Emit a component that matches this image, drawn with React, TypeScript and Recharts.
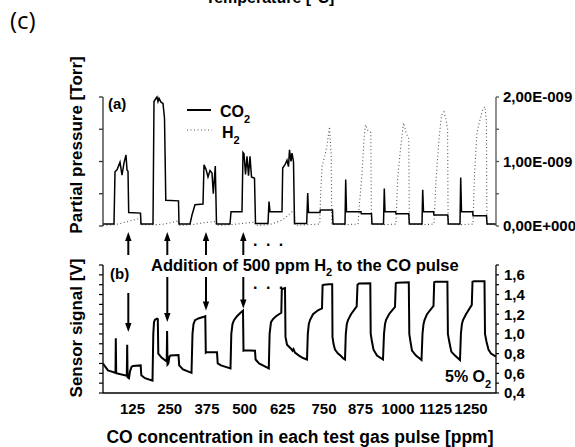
import React from 'react';
import { LineChart, Line, XAxis, YAxis } from 'recharts';

// Time axis in arbitrary time units (0 .. 393) shared by both panels
const T_MAX = 393;

// X tick labels: CO concentration of each test gas pulse [ppm]
const PULSE_LABELS = ['125', '250', '375', '500', '625', '750', '875', '1000', '1125', '1250'];
const PULSE_TICK_T = [29.5, 66.7, 104, 141.7, 179.5, 221, 257.5, 295, 332.5, 368];

// Top panel ticks (partial pressure in units of 1E-009 Torr)
const PRESSURE_TICKS = [0, 0.5, 1, 1.5, 2];
// Bottom panel ticks (sensor signal, V)
const SIGNAL_TICKS = [0.4, 0.5, 0.6, 0.7, 0.8, 0.9, 1.0, 1.1, 1.2, 1.3, 1.4, 1.5, 1.6, 1.7];

// Times at which 500 ppm H2 was added to the CO pulse (arrows)
const H2_ADDITION_T = [25.3, 64.3, 103, 140.3];

// CO2 partial pressure [1E-009 Torr]  ([time, value])
const CO2_TRACE: [number, number][] = [
  [0, 0.03], [11, 0.03], [12, 0.84], [14, 0.87], [17, 0.99], [19, 0.79], [21, 0.98], [23, 1.1], [24, 0.87], [25, 0.85],
  [25.7, 0.21], [37.5, 0.2], [38, 0.03], [50, 0.03], [51, 1.93], [53, 1.98], [54, 2.0], [55, 1.93], [56, 1.98], [58, 1.92],
  [60, 1.9], [61.5, 1.67], [62.8, 0.4], [75.5, 0.39], [76, 0.03], [87, 0.03], [89, 0.17], [92, 0.33], [100, 0.34],
  [101, 0.95], [103, 0.88], [105, 0.76], [107, 0.86], [109, 0.82], [110.3, 0.5], [112.3, 0.93], [113.5, 0.03],
  [127, 0.03], [128, 0.22], [139, 0.22], [140, 1.14], [141, 1.12], [142.5, 0.8], [144, 1.08], [145.5, 0.78], [147, 1.08],
  [148.5, 0.76], [151.5, 0.74], [152.5, 0.04], [165, 0.04], [166, 0.38], [167, 0.22], [179, 0.22], [179.7, 0.9],
  [182, 0.95], [184, 1.02], [185.5, 0.92], [186.5, 1.18], [188, 1.0], [189, 1.13], [190.5, 1.0], [191.5, 0.04],
  [203.7, 0.04], [204.7, 0.51], [205.5, 0.21], [217, 0.21], [217.3, 0.25], [229.5, 0.25], [230, 0.03], [242, 0.03],
  [242.7, 0.72], [243.5, 0.22], [258, 0.22], [258.3, 0.19], [268.5, 0.19], [269, 0.03], [280.5, 0.03], [281.3, 0.58],
  [282, 0.22], [292.5, 0.22], [293, 0.19], [305.8, 0.19], [306.3, 0.03], [319, 0.03], [319.7, 0.56], [320.5, 0.22],
  [330.5, 0.22], [331, 0.17], [344.8, 0.17], [345.3, 0.03], [357, 0.03], [357.7, 0.75], [358.5, 0.22], [369.7, 0.22],
  [370, 0.16], [383.5, 0.16], [384, 0.03], [393, 0.03],
];

// H2 partial pressure [1E-009 Torr]
const H2_TRACE: [number, number][] = [
  [0, 0.01], [12, 0.02], [20, 0.05], [30, 0.09], [37.5, 0.12], [38, 0.02], [52, 0.02], [62, 0.03], [70, 0.06],
  [75.5, 0.08], [76, 0.01], [89, 0.02], [100, 0.05], [113, 0.07], [113.5, 0.01], [128, 0.02], [140, 0.04], [152, 0.06],
  [152.5, 0.01], [166, 0.02], [174, 0.06], [180, 0.1], [186, 0.18], [189, 0.22], [191.5, 0.2], [192, 0.01], [204, 0.02],
  [216.8, 0.03], [217.5, 0.45], [219, 0.92], [222, 1.1], [224, 1.25], [226.5, 1.54], [228.2, 1.1], [228.8, 0.03],
  [242, 0.02], [255, 0.03], [256.5, 0.35], [259, 0.8], [261, 1.35], [262.5, 1.57], [265, 1.48], [267.8, 1.45],
  [268.4, 0.03], [281, 0.02], [293, 0.03], [294.5, 0.7], [297.5, 1.2], [300.5, 1.6], [303, 1.45], [305.8, 1.35],
  [306.3, 0.03], [319, 0.02], [331, 0.03], [333, 0.7], [336, 1.35], [338.5, 1.72], [341, 1.77], [343, 1.65],
  [344.6, 1.5], [345.1, 0.03], [357, 0.02], [370, 0.03], [371.5, 0.8], [374, 1.45], [377, 1.65], [380, 1.82],
  [382, 1.85], [383.4, 1.6], [383.9, 0.03], [393, 0.02],
];

// Sensor signal [V]
const SIGNAL_TRACE: [number, number][] = [
  [0, 0.7], [2, 0.67], [5, 0.63], [8, 0.62], [12.5, 0.605], [12.8, 0.955], [13.2, 0.6], [23.8, 0.575], [24.2, 0.89],
  [24.6, 0.56], [26, 0.55], [27, 0.62], [28.5, 0.665], [30, 0.675], [37.7, 0.68], [38.3, 0.58], [42, 0.55],
  [49.5, 0.525], [50.3, 1.0], [51, 1.12], [52, 1.145], [54, 1.155], [54.8, 1.15], [55.3, 0.8], [58.5, 0.76],
  [63.7, 0.72], [64.1, 1.03], [64.5, 0.69], [65.3, 0.7], [66.5, 0.77], [67.5, 0.78], [75.5, 0.785], [76.2, 0.68],
  [80, 0.64], [88.5, 0.605], [89.5, 1.0], [90.5, 1.1], [92, 1.14], [96, 1.16], [101, 1.175], [102.3, 1.18],
  [102.8, 0.81], [103.5, 0.815], [114, 0.815], [114.7, 0.7], [118, 0.68], [127.5, 0.65], [128.3, 1.0], [129.5, 1.1],
  [131, 1.14], [134, 1.18], [137, 1.21], [140, 1.237], [140.5, 0.83], [141.5, 0.835], [152, 0.83], [152.6, 0.74],
  [156, 0.7], [165.8, 0.65], [166.6, 1.0], [168, 1.12], [170, 1.15], [173, 1.18], [178.3, 1.215], [178.8, 1.45],
  [180, 1.46], [182, 1.465], [182.5, 0.97], [184, 0.89], [188, 0.85], [189.5, 0.83], [190.5, 0.845], [192, 0.81],
  [196, 0.78], [200, 0.755], [204, 0.74], [204.8, 1.0], [205.8, 1.1], [207, 1.14], [210, 1.2], [215, 1.24],
  [219, 1.26], [219.6, 1.495], [221, 1.5], [226, 1.505], [229.2, 1.505], [229.5, 0.97], [230.5, 0.9], [232, 0.84],
  [235, 0.8], [237, 0.785], [240.3, 0.75], [242, 0.74], [242.8, 1.0], [243.8, 1.1], [245, 1.14], [248, 1.2],
  [253.7, 1.28], [254.5, 1.5], [256, 1.512], [267.3, 1.515], [267.7, 1.0], [269, 0.92], [270.5, 0.84], [274, 0.78],
  [280, 0.74], [281, 1.0], [282, 1.1], [283, 1.14], [286, 1.2], [292, 1.275], [292.8, 1.515], [294, 1.52],
  [305.8, 1.525], [306.3, 1.0], [307.5, 0.92], [309, 0.83], [313, 0.78], [318.5, 0.735], [319.5, 1.0], [320.5, 1.1],
  [321.5, 1.14], [324, 1.2], [330.5, 1.285], [331.2, 1.525], [332.5, 1.53], [344.4, 1.53], [344.9, 1.0],
  [346.3, 0.92], [348.3, 0.82], [352, 0.78], [357, 0.735], [357.9, 1.0], [358.9, 1.1], [360, 1.14], [363, 1.2],
  [368.8, 1.295], [369.5, 1.53], [371, 1.535], [381.5, 1.535], [382, 1.0], [383.5, 0.92], [385.5, 0.84], [388, 0.8],
  [393, 0.77],
];

const toRows = (tr: [number, number][]) => tr.map(([t, v]) => ({ t, v }));
const co2Data = toRows(CO2_TRACE);
const h2Data = toRows(H2_TRACE);
const sigData = toRows(SIGNAL_TRACE);

const FONT = '"Liberation Sans", Arial, Helvetica, sans-serif';
const W = 575;
const PLOT_LEFT = 103;
const PLOT_RIGHT = 496;
const tx = (t: number) => PLOT_LEFT + (t / T_MAX) * (PLOT_RIGHT - PLOT_LEFT);

const fmtTorr = (v: number) => (v === 0 ? '0,00E+000' : v.toFixed(2).replace('.', ',') + 'E-009');

const EmptyTick = () => <g />;

const TopRightTick = (props: any) => {
  const { x, y, payload } = props;
  const v = payload.value;
  if (Math.abs(v - Math.round(v)) > 1e-6) return <g />;
  return (
    <text x={x} y={y} dy="0.36em" textAnchor="start" fontSize={15} fontWeight="bold" fill="#000" fontFamily={FONT}>
      {fmtTorr(v)}
    </text>
  );
};

const BottomRightTick = (props: any) => {
  const { x, y, payload } = props;
  const v = Number(payload.value);
  const k = Math.round(v * 10);
  if (k % 2 !== 0 || k > 16) return <g />;
  return (
    <text x={x} y={y} dy="0.36em" textAnchor="start" fontSize={15} fontWeight="bold" fill="#000" fontFamily={FONT}>
      {v.toFixed(1).replace('.', ',')}
    </text>
  );
};

const BottomXTick = (props: any) => {
  const { x, y, payload } = props;
  const i = PULSE_TICK_T.indexOf(payload.value);
  return (
    <text x={x} y={y} dy="0.71em" textAnchor="middle" fontSize={15} fontWeight="bold" fill="#000" fontFamily={FONT}>
      {i >= 0 ? PULSE_LABELS[i] : ''}
    </text>
  );
};

const UpArrow = ({ x, y1, y2 }: { x: number; y1: number; y2: number }) => (
  <g>
    <line x1={x} x2={x} y1={y1 + 8} y2={y2} stroke="#000" strokeWidth={2} />
    <polygon points={`${x - 3.2},${y1 + 9} ${x + 3.2},${y1 + 9} ${x},${y1}`} fill="#000" />
  </g>
);
const DownArrow = ({ x, y1, y2 }: { x: number; y1: number; y2: number }) => (
  <g>
    <line x1={x} x2={x} y1={y1} y2={y2 - 8} stroke="#000" strokeWidth={2} />
    <polygon points={`${x - 3.2},${y2 - 9} ${x + 3.2},${y2 - 9} ${x},${y2}`} fill="#000" />
  </g>
);

const DOWN_TIPS = [332, 322, 310.5, 308.5];
const DOWN_STARTS = [293, 277, 277, 277];

export default function App() {
  return (
    <div style={{ position: 'absolute', left: 0, top: 0, width: W, height: 447, background: '#fff', overflow: 'hidden' }}>
      <div style={{ position: 'absolute', left: 0, top: 0 }}>
        <LineChart width={W} height={265} margin={{ top: 97, right: 59, bottom: 39, left: 83 }}>
          <XAxis type="number" dataKey="t" domain={[0, T_MAX]} hide allowDataOverflow />
          <YAxis
            yAxisId="l"
            orientation="left"
            width={20}
            type="number"
            domain={[0, 2]}
            ticks={PRESSURE_TICKS}
            interval={0}
            tick={<EmptyTick />}
            tickSize={4}
            axisLine={{ stroke: '#333', strokeWidth: 1.3 }}
            tickLine={{ stroke: '#333', strokeWidth: 1.3 }}
          />
          <YAxis
            yAxisId="r"
            orientation="right"
            width={20}
            type="number"
            domain={[0, 2]}
            ticks={PRESSURE_TICKS}
            interval={0}
            tick={<TopRightTick />}
            tickSize={3}
            tickMargin={4}
            axisLine={{ stroke: '#555', strokeWidth: 1.3 }}
            tickLine={{ stroke: '#555', strokeWidth: 1.3 }}
          />
          <Line
            yAxisId="r"
            data={h2Data}
            dataKey="v"
            type="linear"
            stroke="#555"
            strokeWidth={1.1}
            strokeDasharray="1 2.5"
            dot={false}
            isAnimationActive={false}
          />
          <Line
            yAxisId="l"
            data={co2Data}
            dataKey="v"
            type="linear"
            stroke="#000"
            strokeWidth={1.5}
            dot={false}
            isAnimationActive={false}
          />
        </LineChart>
      </div>
      <div style={{ position: 'absolute', left: 0, top: 230 }}>
        <LineChart width={W} height={217} margin={{ top: 35, right: 59, bottom: 0, left: 83 }}>
          <XAxis
            type="number"
            dataKey="t"
            domain={[0, T_MAX]}
            ticks={PULSE_TICK_T}
            interval={0}
            height={54}
            tickLine={false}
            tickSize={0}
            tickMargin={10}
            tick={<BottomXTick />}
            axisLine={{ stroke: '#000', strokeWidth: 1.5 }}
            allowDataOverflow
          />
          <YAxis
            yAxisId="l"
            orientation="left"
            width={20}
            type="number"
            domain={[0.4, 1.7]}
            ticks={SIGNAL_TICKS}
            interval={0}
            tick={<EmptyTick />}
            tickSize={4}
            axisLine={{ stroke: '#000', strokeWidth: 1.3 }}
            tickLine={{ stroke: '#000', strokeWidth: 1.2 }}
          />
          <YAxis
            yAxisId="r"
            orientation="right"
            width={20}
            type="number"
            domain={[0.4, 1.7]}
            ticks={SIGNAL_TICKS}
            interval={0}
            tick={<BottomRightTick />}
            tickSize={3}
            tickMargin={5}
            axisLine={{ stroke: '#000', strokeWidth: 1.3 }}
            tickLine={{ stroke: '#000', strokeWidth: 1.2 }}
          />
          <Line
            yAxisId="r"
            data={sigData}
            dataKey="v"
            type="linear"
            stroke="transparent"
            strokeWidth={0}
            dot={false}
            legendType="none"
            isAnimationActive={false}
          />
          <Line
            yAxisId="l"
            data={sigData}
            dataKey="v"
            type="linear"
            stroke="#000"
            strokeWidth={2}
            dot={false}
            isAnimationActive={false}
          />
        </LineChart>
      </div>
      <svg
        width={W}
        height={447}
        style={{ position: 'absolute', left: 0, top: 0, pointerEvents: 'none' }}
        fontFamily={FONT}
      >
        <text x={270} y={3} textAnchor="middle" fontSize={16} fontWeight="bold" fill="#000">
          Temperature [°C]
        </text>
        <text x={10} y={29} fontSize={24} fill="#000" fontFamily='"Open Sans", "Noto Sans", sans-serif'>
          (c)
        </text>
        <text transform="translate(82,145) rotate(-90)" textAnchor="middle" fontSize={17} fontWeight="bold" fill="#000">
          Partial pressure [Torr]
        </text>
        <text transform="translate(82,328) rotate(-90)" textAnchor="middle" fontSize={17} fontWeight="bold" fill="#000">
          Sensor signal [V]
        </text>
        <text x={300} y={443} textAnchor="middle" fontSize={17.5} fontWeight="bold" fill="#000">
          CO concentration in each test gas pulse [ppm]
        </text>
        <text x={108} y={109} fontSize={15} fontWeight="bold" fill="#000">(a)</text>
        <text x={110} y={279} fontSize={15} fontWeight="bold" fill="#000">(b)</text>
        {/* legend */}
        <line x1={187} x2={211} y1={110} y2={110} stroke="#000" strokeWidth={2} />
        <text x={220} y={116.5} fontSize={16} fontWeight="bold" fill="#000">
          CO<tspan fontSize={11} dy={6}>2</tspan>
        </text>
        <line x1={187} x2={212} y1={130} y2={130} stroke="#555" strokeWidth={1.1} strokeDasharray="1 2.5" />
        <text x={222} y={138} fontSize={16} fontWeight="bold" fill="#000">
          H<tspan fontSize={11} dy={6}>2</tspan>
        </text>
        {/* annotation */}
        <text x={151} y={271} fontSize={16.5} fontWeight="bold" fill="#000">
          Addition of 500 ppm H<tspan fontSize={11} dy={5}>2</tspan>
          <tspan dy={-5}> to the CO pulse</tspan>
        </text>
        {H2_ADDITION_T.map((t, i) => (
          <UpArrow key={'u' + i} x={tx(t)} y1={232} y2={255} />
        ))}
        {H2_ADDITION_T.map((t, i) => (
          <DownArrow key={'d' + i} x={tx(t)} y1={DOWN_STARTS[i]} y2={DOWN_TIPS[i]} />
        ))}
        <text x={253} y={246} fontSize={16} fontWeight="bold" fill="#000" letterSpacing={2}>. . .</text>
        <text x={253} y={289} fontSize={16} fontWeight="bold" fill="#000" letterSpacing={2}>. . .</text>
        <text x={445} y={382} fontSize={16} fontWeight="bold" fill="#000">
          5% O<tspan fontSize={11} dy={6}>2</tspan>
        </text>
      </svg>
    </div>
  );
}
